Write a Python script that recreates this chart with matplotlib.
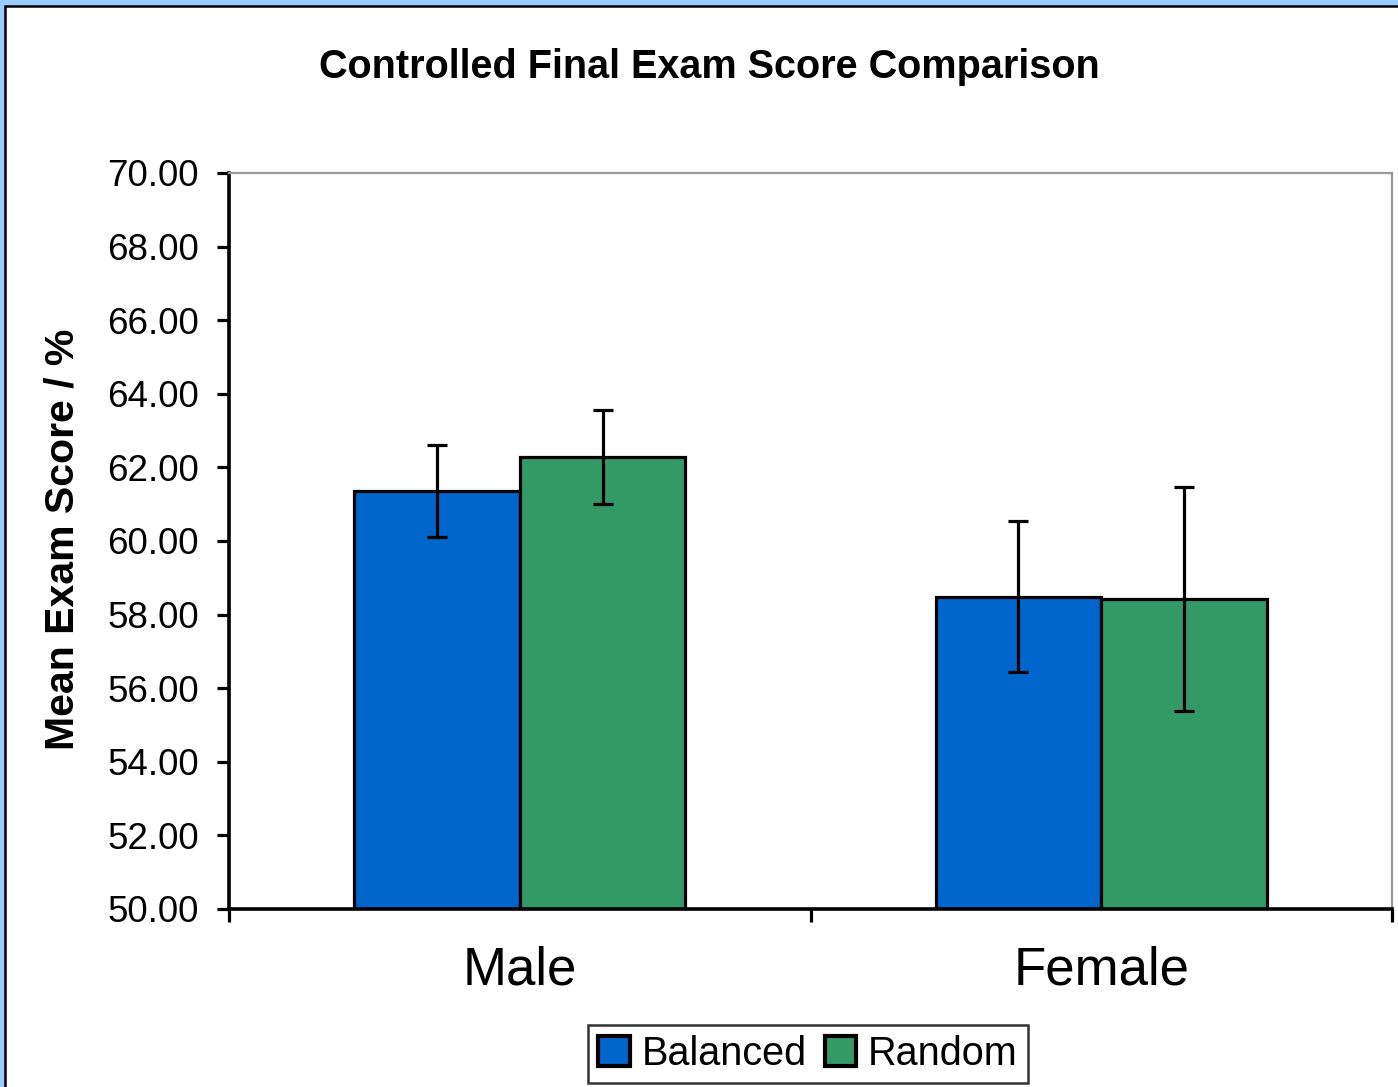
import matplotlib.pyplot as plt
import matplotlib.patches as mpatches
import numpy as np

plt.rcParams['font.family'] = ['Liberation Sans', 'DejaVu Sans']

groups = ['Male', 'Female']
series = ['Balanced', 'Random']
balanced = [61.35, 58.48]
random_ = [62.28, 58.42]
balanced_err = [1.25, 2.05]
random_err = [1.28, 3.05]
colors = ['#0066CC', '#339966']

fig = plt.figure(figsize=(13.98, 10.87), dpi=100)
fig.patch.set_facecolor('#99CCFF')
fig.patches.append(mpatches.Rectangle((5 / 1398, -0.05), 1.1, 1.05 - 5.5 / 1087,
                                      transform=fig.transFigure, facecolor='white',
                                      edgecolor='black', linewidth=1.8, zorder=-5))

ax = fig.add_axes([229 / 1398, 1 - 909 / 1087, (1392 - 229) / 1398, (909 - 173) / 1087])
ax.set_zorder(2)
x = np.arange(len(groups))
w = 0.285
ekw = dict(elinewidth=2.3, capthick=2.3, ecolor='black')
ax.bar(x - w / 2, balanced, w, color=colors[0], edgecolor='black',
       linewidth=2.3, label=series[0], yerr=balanced_err, capsize=7, error_kw=ekw)
ax.bar(x + w / 2, random_, w, color=colors[1], edgecolor='black',
       linewidth=2.3, label=series[1], yerr=random_err, capsize=7, error_kw=ekw)

ax.set_ylim(50, 70)
ax.set_xlim(-0.5, 1.5)
ax.set_yticks(np.arange(50, 70.1, 2))
ax.set_yticklabels([f'{v:.2f}' for v in np.arange(50, 70.1, 2)], fontsize=26.5)
ax.set_xticks(x)
ax.set_xticklabels(groups, fontsize=38)
ax.set_xticks([-0.5, 0.5, 1.5], minor=True)
ax.tick_params(axis='x', which='major', length=0, pad=26)
ax.tick_params(axis='x', which='minor', length=9, width=2.3, direction='out')
ax.tick_params(axis='y', length=8.6, width=2.3, direction='out', pad=13)

for s in ['left', 'bottom']:
    ax.spines[s].set_linewidth(2.6)
    ax.spines[s].set_color('black')
for s in ['top', 'right']:
    ax.spines[s].set_linewidth(1.6)
    ax.spines[s].set_color('#999999')

fig.text(62 / 1398, 1 - 539 / 1087, 'Mean Exam Score / %', rotation=90,
         ha='center', va='center', fontsize=29.5, fontweight='bold')
fig.text(709 / 1398, 1 - 67 / 1087, 'Controlled Final Exam Score Comparison',
         ha='center', va='center', fontsize=28.5, fontweight='bold')

leg = ax.legend(loc='center', bbox_to_anchor=(808 / 1398, 1 - 1054 / 1087),
                bbox_transform=fig.transFigure, ncol=2, fontsize=28.5, frameon=True,
                fancybox=False, edgecolor='black', handlelength=0.8, handleheight=0.8,
                handletextpad=0.3, columnspacing=0.45, borderpad=0.25, borderaxespad=0)
leg.get_frame().set_linewidth(1.8)
for h in leg.legend_handles:
    h.set_linewidth(3)

fig.savefig('out.png', dpi=100, facecolor=fig.get_facecolor())
